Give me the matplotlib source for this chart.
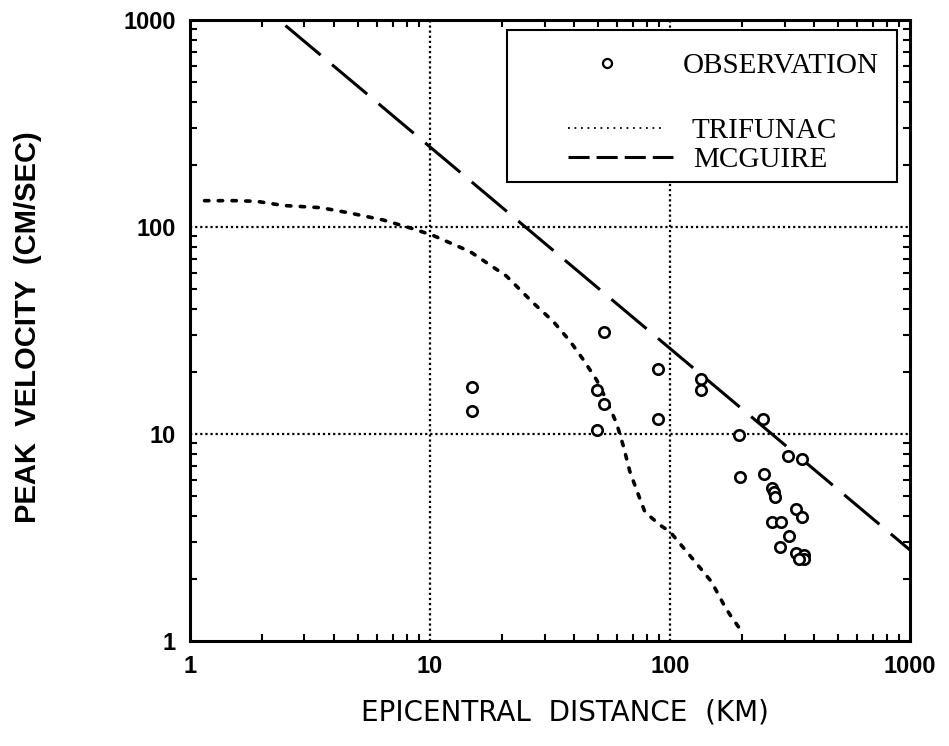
import matplotlib
matplotlib.use("Agg")
import matplotlib.pyplot as plt
from matplotlib.patches import Rectangle
from matplotlib.ticker import LogLocator, NullFormatter, FixedFormatter, FixedLocator

# Observed peak velocities
obs_dist = [14.9, 14.9, 53.2, 89.4, 134.6, 134.6, 49.5, 53.2, 49.5, 89.4,
            244.8, 193.9, 311, 354, 195.7, 246.4, 265.5, 272, 273.8, 335,
            354, 265.5, 290, 313, 287, 335, 362.7, 362.7, 346]
obs_vel = [16.9, 12.9, 31.2, 20.6, 18.4, 16.3, 16.3, 14.0, 10.4, 11.8,
           11.8, 9.9, 7.85, 7.57, 6.18, 6.39, 5.5, 5.26, 4.97, 4.34,
           3.96, 3.74, 3.74, 3.23, 2.85, 2.65, 2.6, 2.48, 2.48]

# Trifunac attenuation curve
trif_dist = [1.15, 1.55, 1.9, 2.45, 3.5, 4.6, 6.4, 8.5, 10.3, 14.7, 20.8,
             26.9, 32.6, 38.4, 43.7, 49.5, 54.5, 60, 64, 68, 72.6, 78.6,
             90.8, 100, 107, 127, 149, 169, 180, 195]
trif_vel = [134, 134, 133, 127, 124, 117, 108, 98, 91, 76, 58,
            43, 35, 28, 22.7, 18.2, 14.5, 11.2, 8.7, 6.6, 5.36, 4.2,
            3.63, 3.37, 3.07, 2.42, 1.93, 1.47, 1.31, 1.15]

# McGuire attenuation line
mcg_dist = [2.5, 1000]
mcg_vel = [940, 2.75]

decades = [1, 10, 100, 1000]
decade_labels = ["1", "10", "100", "1000"]

TRIF_STYLE = (0, (1.2, 2.6))
MCG_STYLE = (0, (15, 4.9))

fig = plt.figure(figsize=(9.49, 7.46), dpi=100)
ax = fig.add_axes([0.2002, 0.1408, 0.7587, 0.8324])
ax.set_xscale("log")
ax.set_yscale("log")
ax.set_xlim(1, 1000)
ax.set_ylim(1, 1000)

# dotted grid at interior decades
for v in [10, 100]:
    ax.axvline(v, color="black", lw=1.6, ls=(0, (1, 1.3)), zorder=1)
    ax.axhline(v, color="black", lw=1.6, ls=(0, (1, 1.3)), zorder=1)

ax.plot(trif_dist, trif_vel, color="black", lw=2.6,
        ls=TRIF_STYLE, dash_capstyle="round", zorder=2)
ax.plot(mcg_dist, mcg_vel, color="black", lw=2.2, ls=MCG_STYLE, zorder=2)
ax.plot(obs_dist, obs_vel, ls="none", marker="o", ms=7.5, mfc="white",
        mec="black", mew=1.9, zorder=3)

for s in ax.spines.values():
    s.set_linewidth(2.2)

ax.xaxis.set_major_locator(FixedLocator(decades))
ax.yaxis.set_major_locator(FixedLocator(decades))
ax.xaxis.set_major_formatter(FixedFormatter(decade_labels))
ax.yaxis.set_major_formatter(FixedFormatter(decade_labels))
ax.xaxis.set_minor_locator(LogLocator(base=10, subs=range(2, 10)))
ax.yaxis.set_minor_locator(LogLocator(base=10, subs=range(2, 10)))
ax.xaxis.set_minor_formatter(NullFormatter())
ax.yaxis.set_minor_formatter(NullFormatter())
ax.tick_params(which="both", direction="in", top=True, right=True,
               width=1.5, color="black")
ax.tick_params(which="major", length=0)
ax.tick_params(which="minor", length=5)
ax.tick_params(axis="x", pad=10)
ax.tick_params(axis="y", pad=10)
for lab in ax.get_xticklabels() + ax.get_yticklabels():
    lab.set_fontfamily("Liberation Sans")
    lab.set_fontweight("bold")
    lab.set_fontsize(17)

ax.set_xlabel("EPICENTRAL  DISTANCE  (KM)", fontsize=20,
              family="Liberation Sans Narrow")
ax.xaxis.set_label_coords(0.521, -0.092)
ax.set_ylabel("PEAK  VELOCITY  (CM/SEC)", fontsize=21, fontweight="bold",
              family="Liberation Sans")
ax.yaxis.set_label_coords(-0.205, 0.505)

# legend box drawn in axes coordinates
tr = ax.transAxes
ax.add_patch(Rectangle((0.4403, 0.7391), 0.5416, 0.2448, transform=tr,
                       facecolor="white", edgecolor="black", lw=1.5, zorder=5))
serif = dict(family="Liberation Serif", fontsize=21, va="baseline",
             ha="left", transform=tr, zorder=6)
ax.plot([0.579], [0.9308], transform=tr, ls="none", marker="o", ms=6.5,
        mfc="white", mec="black", mew=1.6, zorder=6, clip_on=False)
ax.text(0.6847, 0.9147, "OBSERVATION", **serif)
ax.plot([0.525, 0.657], [0.8261, 0.8261], transform=tr, color="black",
        lw=1.3, ls=(0, (1, 2.6)), zorder=6)
ax.text(0.6972, 0.8100, "TRIFUNAC", **serif)
ax.plot([0.525, 0.671], [0.7794, 0.7794], transform=tr, color="black",
        lw=2.2, ls=(0, (6.9, 2.3)), zorder=6)
ax.text(0.6986, 0.7633, "MCGUIRE", **serif)

fig.savefig("out.png", dpi=100)
